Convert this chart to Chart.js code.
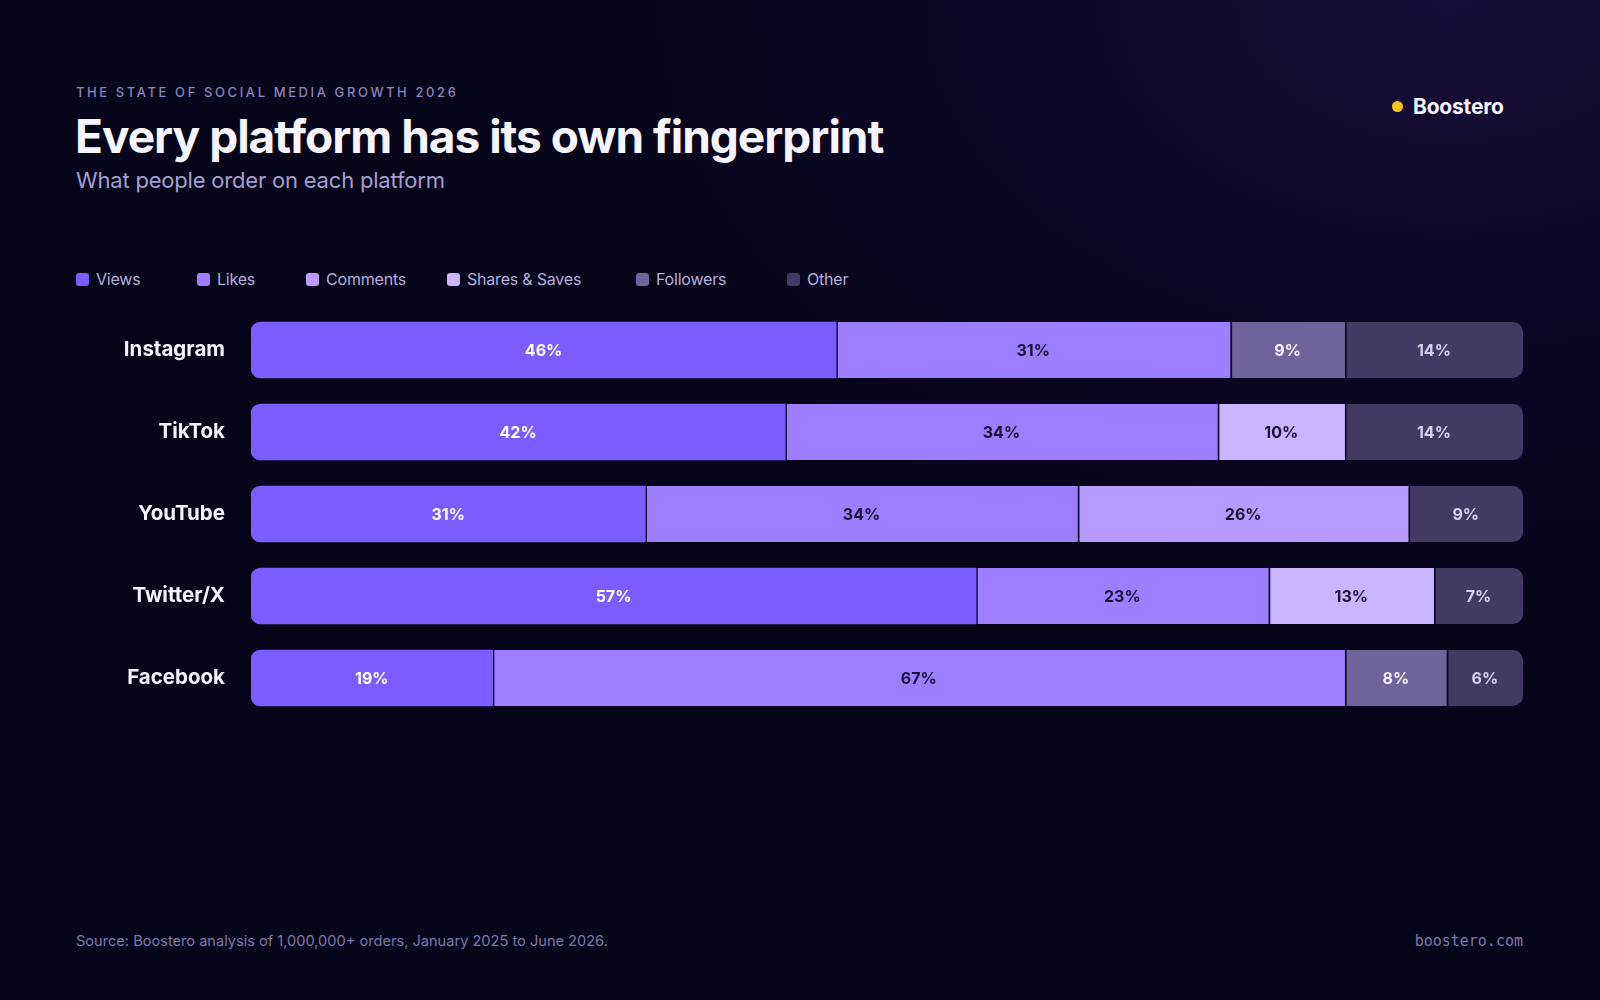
<!DOCTYPE html>
<html lang="en">
<head>
  <meta charset="UTF-8">
  <title>Every platform has its own fingerprint</title>
  <script src="https://cdn.jsdelivr.net/npm/chart.js"></script>
  <style>
    html, body { margin: 0; padding: 0; }
    body {
      width: 1600px; height: 1000px; position: relative; overflow: hidden;
      background: radial-gradient(ellipse 900px 600px at 1450px 0px, #180e3c 0%, #0d0826 45%, #07051a 100%);
      background-color: #07051a;
      font-family: Inter, "Noto Sans", sans-serif;
    }
    .kicker {
      position: absolute; left: 76px; top: 86px; font-size: 13px; line-height: 13px;
      letter-spacing: 2.6px; color: #8c83bd; font-weight: 500;
    }
    .title {
      position: absolute; left: 75px; top: 113px; font-size: 46px; line-height: 46px;
      font-weight: 700; letter-spacing: -1.0px; color: #f6f4ff;
    }
    .subtitle {
      position: absolute; left: 76px; top: 169px; font-size: 22px; line-height: 22px;
      color: #a69ed2; letter-spacing: -0.2px;
    }
    .brand {
      position: absolute; left: 1392px; top: 94px; display: flex; align-items: center;
      font-size: 21px; font-weight: 700; color: #f6f4ff; letter-spacing: -0.2px;
    }
    .brand .dot { width: 11px; height: 11px; border-radius: 50%; background: #f7c21c; margin-right: 10px; }
    #legend { position: absolute; left: 0; top: 270px; width: 1600px; height: 20px; }
    .item { position: absolute; top: 0; display: flex; align-items: center; height: 18px;
      font-size: 16px; color: #b7afdb; white-space: nowrap; letter-spacing: -0.2px; }
    .item .sw { width: 13px; height: 13px; border-radius: 3px; margin-right: 7px; }
    #wrap { position: absolute; left: 0; top: 269px; width: 1600px; height: 490px; }
    .footer { position: absolute; top: 934px; font-size: 14.6px; line-height: 15px; color: #7f77ab; }
    .src { left: 76px; }
    .site { right: 77px; font-family: "DejaVu Sans Mono", monospace; font-size: 15px; }
  </style>
</head>
<body>
  <div class="kicker">THE STATE OF SOCIAL MEDIA GROWTH 2026</div>
  <div class="title">Every platform has its own fingerprint</div>
  <div class="subtitle">What people order on each platform</div>
  <div class="brand"><span class="dot"></span>Boostero</div>
  <div id="legend"></div>
  <div id="wrap"><canvas id="chart"></canvas></div>
  <div class="footer src">Source: Boostero analysis of 1,000,000+ orders, January 2025 to June 2026.</div>
  <div class="footer site">boostero.com</div>

  <script>
    const platforms = ['Instagram', 'TikTok', 'YouTube', 'Twitter/X', 'Facebook'];
    const seriesNames = ['Views', 'Likes', 'Comments', 'Shares & Saves', 'Followers', 'Other'];
    const views = [46, 42, 31, 57, 19];
    const likes = [31, 34, 34, 23, 67];
    const comments = [0, 0, 26, 0, 0];
    const shares = [0, 10, 0, 13, 0];
    const followers = [9, 0, 0, 0, 8];
    const other = [14, 14, 9, 7, 6];

    const series = [views, likes, comments, shares, followers, other];
    const colors = ['#7b5cff', '#9d7eff', '#b89bff', '#c9b5ff', '#6f6499', '#423a64'];
    const labelColors = ['#ffffff', '#1b1136', '#1b1136', '#1b1136', '#f5f1ff', '#d7d0f0'];
    const legendLeft = [76, 197, 306, 447, 636, 787];
    const R = 10;

    // legend
    const legend = document.getElementById('legend');
    seriesNames.forEach((name, i) => {
      const el = document.createElement('div');
      el.className = 'item';
      el.style.left = legendLeft[i] + 'px';
      el.innerHTML = `<span class="sw" style="background:${colors[i]}"></span>${name}`;
      legend.appendChild(el);
    });

    // first / last non-zero segment for each row
    const firstIdx = platforms.map((_, r) => series.findIndex(s => s[r] > 0));
    const lastIdx = platforms.map((_, r) => {
      let k = -1;
      series.forEach((s, d) => { if (s[r] > 0) k = d; });
      return k;
    });

    // floating bars [start, end] built from the values
    const datasets = series.map((s, d) => ({
      label: seriesNames[d],
      data: s.map((v, r) => {
        if (!v) return null;
        let start = 0;
        for (let k = 0; k < d; k++) start += series[k][r];
        return [start, start + v];
      }),
      backgroundColor: colors[d],
      borderColor: '#0a0720',
      borderSkipped: false,
      grouped: false,
      barThickness: 56,
      borderWidth: ctx => ({ left: firstIdx[ctx.dataIndex] === ctx.datasetIndex ? 0 : 2, right: 0, top: 0, bottom: 0 }),
      borderRadius: ctx => {
        const f = firstIdx[ctx.dataIndex] === ctx.datasetIndex ? R : 0;
        const l = lastIdx[ctx.dataIndex] === ctx.datasetIndex ? R : 0;
        return { topLeft: f, bottomLeft: f, topRight: l, bottomRight: l };
      }
    }));

    const barLabels = {
      id: 'barLabels',
      afterDatasetsDraw(chart) {
        const ctx = chart.ctx;
        ctx.save();
        ctx.font = '700 16px Inter, sans-serif';
        ctx.textAlign = 'center';
        ctx.textBaseline = 'middle';
        chart.data.datasets.forEach((ds, d) => {
          chart.getDatasetMeta(d).data.forEach((bar, r) => {
            const v = series[d][r];
            if (!v) return;
            const c = bar.getCenterPoint();
            ctx.fillStyle = labelColors[d];
            ctx.fillText(v + '%', c.x, c.y + 1);
          });
        });
        ctx.restore();
      }
    };

    new Chart(document.getElementById('chart'), {
      type: 'bar',
      data: { labels: platforms, datasets },
      options: {
        indexAxis: 'y',
        responsive: true,
        maintainAspectRatio: false,
        animation: false,
        layout: { padding: { left: 0, right: 77, top: 40, bottom: 40 } },
        plugins: { legend: { display: false }, tooltip: { enabled: false } },
        scales: {
          x: { display: false, min: 0, max: 100 },
          y: {
            grid: { display: false, drawTicks: false },
            border: { display: false },
            ticks: { color: '#f5f3ff', padding: 26, font: { family: 'Inter', size: 20.5, weight: '700' } },
            afterFit(scale) { scale.width = 251; }
          }
        }
      },
      plugins: [barLabels]
    });
  </script>
</body>
</html>
